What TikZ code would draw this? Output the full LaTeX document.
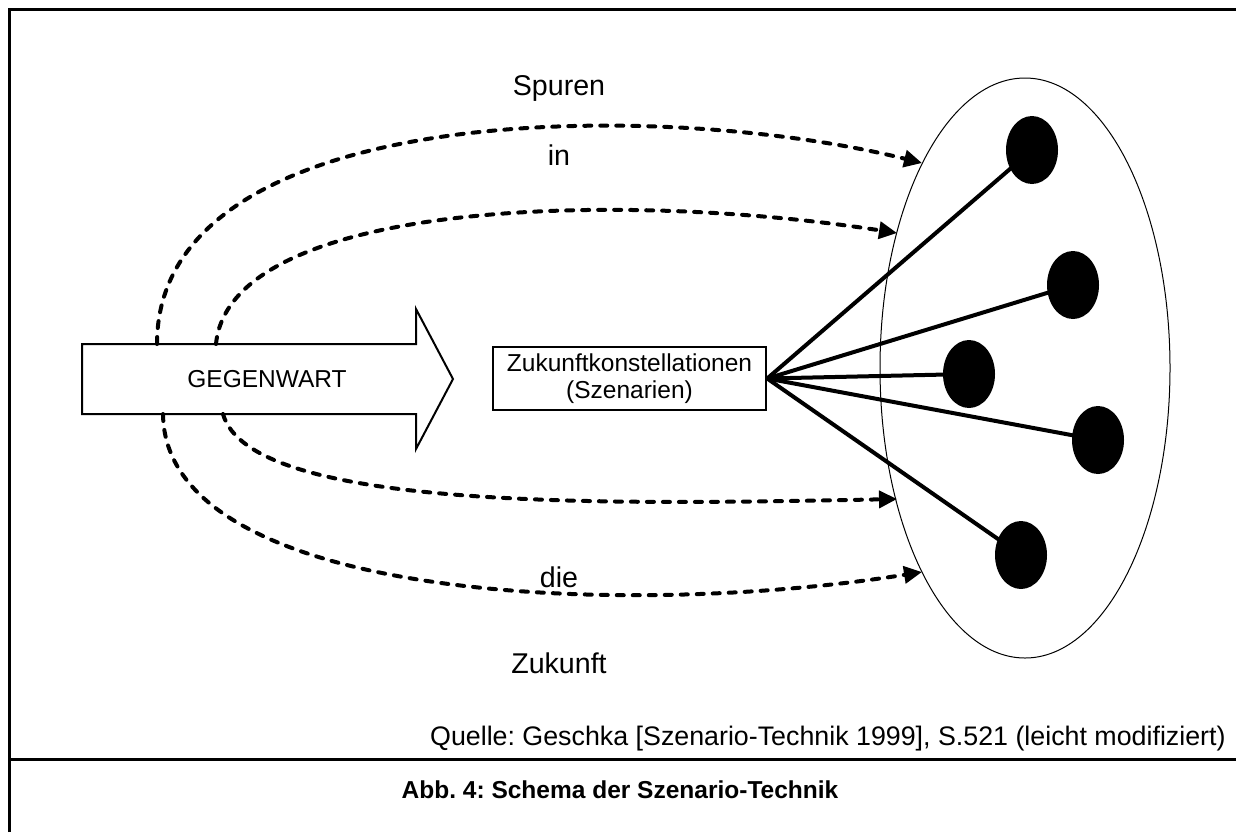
\documentclass[tikz,border=0pt]{standalone}
\usepackage{fontspec}
\setmainfont{Liberation Sans}
\usetikzlibrary{arrows.meta,shapes.geometric,backgrounds}
\frenchspacing
\begin{document}
\begin{tikzpicture}[x=0.5pt,y=-0.5pt,
  lbl/.style={font=\fontsize{12.25}{13.5}\selectfont, inner sep=0pt},
  word/.style={font=\fontsize{14.3}{16}\selectfont, inner sep=0pt, anchor=base},
  frameline/.style={line width=1.5pt},
  trace/.style={line width=2pt, dash pattern=on 3.5pt off 4.5pt, line cap=round,
    -{Triangle[length=9pt,width=8.5pt]}},
  spoke/.style={line width=2pt},
  scen/.style={ellipse, fill=black, minimum width=26pt, minimum height=34pt, inner sep=0pt},
  boxnode/.style={draw, line width=1.2pt, minimum width=136.5pt, minimum height=31.5pt,
    align=center, font=\fontsize{12.25}{13.5}\selectfont, inner sep=0pt}
]
\useasboundingbox (0,0) rectangle (1236,832);

% frame and caption rule
\draw[frameline] (9,832) -- (9,9) -- (1236,9);
\draw[frameline] (9,759) -- (1236,759);

% present: big arrow
\draw[line width=1pt, fill=white] (82,344) -- (416,344) -- (416,309) -- (453,379)
  -- (416,449) -- (416,414) -- (82,414) -- cycle;
\node[lbl] (gw) at (267,379) {GEGENWART};

% start points of the traces on the arrow
\coordinate (a1) at (157,344);
\coordinate (a2) at (216,344);
\coordinate (a3) at (223,414);
\coordinate (a4) at (163,414);

% scenario funnel
\node[draw, ellipse, line width=0.5pt, minimum width=145pt, minimum height=290pt, inner sep=0pt]
  (cloud) at (1025,368) {};
\node[boxnode] (zk) at (629.5,378.5) {Zukunftkonstellationen\\(Szenarien)};

\node[scen] (s1) at (1032,150) {};
\node[scen] (s2) at (1073,285) {};
\node[scen] (s3) at (969,374) {};
\node[scen] (s4) at (1098,440) {};
\node[scen] (s5) at (1021,555) {};

\begin{scope}[on background layer]
  \foreach \s in {s1,s2,s3,s4,s5}
    \draw[spoke] (zk.east) -- (\s.center);
\end{scope}

% arrival points on the funnel
\coordinate (e1) at (922,163);
\coordinate (e2) at (897,233);
\coordinate (e3) at (897,499);
\coordinate (e4) at (922,572);

\draw[trace] (a1) .. controls (157,100) and (660,98) .. (e1);
\draw[trace] (a2) .. controls (230,200) and (620,190) .. (e2);
\draw[trace] (a3) .. controls (250,510) and (600,505) .. (e3);
\draw[trace] (a4) .. controls (165,600) and (620,620) .. (e4);

% words along the traces
\node[word] (w1) at (559,95) {Spuren};
\node[word] (w2) at (559,165) {in};
\node[word] (w3) at (559,587) {die};
\node[word] (w4) at (559,673) {Zukunft};

% source and caption
\node[lbl, font=\fontsize{13.4}{15}\selectfont, anchor=base east] (src) at (1226,745)
  {Quelle: Geschka [Szenario-Technik 1999], S.521 (leicht modifiziert)};
\node[lbl, font=\fontsize{12.25}{13.5}\selectfont\bfseries] (cap) at (620,790)
  {Abb. 4: Schema der Szenario-Technik};
\end{tikzpicture}
\end{document}
